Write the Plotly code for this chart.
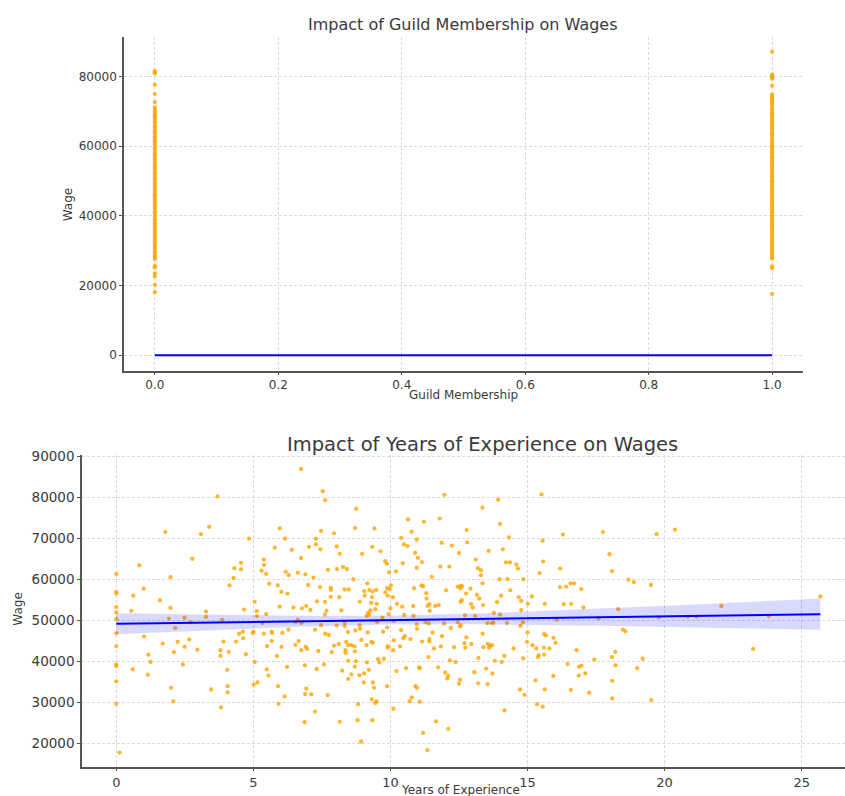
import numpy as np
import plotly.graph_objects as go

# ---------------- data ----------------
experience = [
    3.69, 1.79, 3.09, 3.39, 2.77, 0.84, 0.0, 1.98, 0.0, 0.0, 1.00, 0.62, 0.0, 1.59, 1.98, 0.55, 0.0, 0.0,
    1.92, 2.49, 3.27, 3.27, 3.86, 2.71, 2.15, 0.0, 0.0, 1.01, 1.69, 2.24, 2.66, 2.49, 2.10, 2.96, 3.91,
    3.80, 3.80, 0.0, 0.0, 1.17, 1.25, 2.43, 0.60, 1.15, 0.0, 2.00, 3.46, 0.0, 2.08, 3.82, 0.12,
    6.74, 7.53, 7.62, 5.96, 4.84, 6.15, 7.47, 7.94, 7.28, 5.78, 6.40, 7.28, 7.03, 7.45, 8.04, 8.15, 6.74,
    5.38, 5.39, 4.55, 4.55, 4.31, 5.30, 5.47, 6.18, 6.29, 6.62, 6.90, 7.72, 8.05, 8.27, 8.41, 4.28, 4.13,
    7.19, 5.58, 5.89, 7.00, 7.43, 7.82, 7.83, 8.33, 8.48, 6.02, 6.24, 5.05, 8.13, 7.82, 7.32, 7.61, 4.66,
    5.13, 5.13, 5.47, 5.96, 6.46, 6.77, 6.93, 7.08, 7.67, 7.61, 8.21, 6.62, 6.54, 6.74, 6.79, 5.32, 7.47,
    8.04, 8.33, 8.33, 5.00, 4.98, 4.62, 4.48, 4.63, 5.38, 5.67, 5.68, 6.06, 6.28, 7.25, 7.62, 7.75, 8.45,
    4.37, 5.67, 6.65, 6.53, 6.91, 6.96, 7.94, 8.12, 8.39, 8.46, 8.36, 8.37, 5.50, 6.03, 6.75, 7.37, 7.86,
    4.10, 4.73, 5.86, 8.46, 5.05, 6.23, 6.88, 7.58, 4.05, 5.49, 5.55, 7.31, 8.24, 8.57, 8.46, 5.15, 5.01,
    4.06, 4.06, 5.90, 6.93, 6.89, 7.11, 6.14, 7.71, 5.92, 7.25, 6.87, 8.15,
    11.97, 8.75, 10.64, 11.22, 11.80, 8.71, 9.42, 10.77, 12.78, 10.39, 10.96, 11.87, 12.24, 12.80, 10.49,
    10.62, 9.34, 9.64, 8.97, 10.90, 12.50, 11.00, 11.15, 9.81, 9.87, 10.45, 10.96, 11.82, 12.15, 13.11,
    9.95, 10.20, 8.65, 11.51, 9.16, 11.13, 11.19, 10.86, 9.88, 9.98, 10.02, 9.23, 9.35, 9.48, 9.04, 12.03,
    12.45, 12.56, 12.61, 12.55, 12.92, 11.31, 12.76, 9.81, 9.06, 9.33, 10.09, 9.90, 8.88, 9.50, 9.30,
    10.24, 10.43, 10.83, 11.32, 11.36, 11.42, 11.63, 11.76, 12.56, 12.60, 12.94, 13.00, 11.43, 10.00, 9.45,
    9.27, 9.19, 9.14, 9.22, 9.71, 9.93, 10.50, 10.84, 12.72, 13.09, 9.48, 9.53, 10.12, 10.96, 11.28, 11.40,
    11.96, 12.56, 12.45, 8.88, 8.89, 8.72, 10.97, 12.20, 12.54, 9.17, 9.73, 10.39, 9.88, 11.54, 10.53,
    10.47, 11.88, 12.77, 8.94, 10.12, 10.73, 11.42, 11.42, 11.15, 9.30, 9.36, 12.70, 12.73, 8.58, 8.69,
    8.70, 9.13, 9.90, 9.90, 10.10, 10.35, 11.59, 11.84, 12.32, 12.95, 9.55, 9.60, 9.76, 8.74, 9.14, 11.39,
    12.17, 12.38, 8.70, 9.21, 9.04, 8.87, 10.22, 10.57, 11.04, 11.07, 11.74, 12.00, 12.11, 12.07, 13.06,
    9.03, 9.36, 9.40, 9.88, 10.91, 10.97, 12.54, 12.50, 9.32, 9.49, 9.45, 8.82, 10.78, 10.70, 11.07, 10.11,
    8.80, 9.34, 11.66, 12.11, 11.19, 8.93, 11.35,
    15.51, 13.93, 13.36, 14.00, 16.29, 14.32, 15.55, 13.58, 14.10, 15.57, 14.21, 14.36, 14.59, 14.65, 13.19,
    13.30, 13.30, 16.19, 15.44, 13.36, 13.98, 14.27, 14.85, 16.18, 16.41, 16.57, 16.70, 16.96, 14.37, 13.15,
    13.24, 14.04, 14.68, 14.77, 15.16, 13.89, 13.38, 15.01, 15.63, 16.32, 16.59, 17.04, 14.77, 13.77, 14.00,
    14.83, 14.74, 13.54, 13.70, 13.75, 14.25, 16.07, 17.59, 15.00, 13.36, 15.61, 15.67, 15.95, 13.39, 13.55,
    13.64, 13.70, 13.60, 14.98, 15.18, 15.32, 15.60, 15.80, 16.02, 14.49, 15.41, 15.38, 15.61, 16.79, 14.15,
    14.84, 13.21, 17.44, 13.81, 14.06, 16.46, 16.88, 16.97, 13.49, 13.72, 17.11, 16.87, 15.94, 13.20, 13.54,
    15.29, 14.73, 14.89, 15.63, 16.58, 17.25, 15.35, 15.55, 14.16,
    17.75, 19.71, 20.38, 17.99, 18.08, 18.68, 18.88, 19.50, 18.31, 22.07, 19.79, 20.85, 21.17, 18.48, 18.57,
    18.20, 18.08, 19.20, 18.21, 19.00, 18.09, 18.09, 19.51,
    25.68, 23.23, 23.80,
]
wage = [
    80200, 71500, 71000, 72800, 65000, 63400, 61300, 60500, 56900, 56500, 57700, 56000, 53200, 54900, 53000, 52300, 51900, 50300,
    50400, 50600, 52100, 50800, 50100, 49500, 48100, 46800, 43700, 46000, 44300, 44700, 45300, 43500, 42200, 42800, 44800,
    42700, 41300, 39200, 38800, 41600, 39800, 39200, 38000, 36700, 35100, 33500, 33100, 29600, 30200, 28700, 17700,
    86900, 81500, 79300, 72400, 69900, 69900, 71800, 71200, 69900, 67700, 67200, 68500, 67900, 67300, 68000, 66200, 65200,
    64800, 63500, 64000, 62400, 62700, 62100, 61300, 61800, 61000, 61600, 61200, 62300, 62500, 63000, 62500, 60300, 58500,
    60400, 58900, 58500, 58600, 58100, 57900, 57400, 57500, 57500, 56900, 56500, 54500, 55600, 55700, 54600, 54500, 52600,
    52200, 51000, 51500, 53300, 53100, 52900, 53500, 52500, 52300, 51400, 52400, 50100, 49500, 49300, 49600, 49300, 48800,
    48700, 49500, 48600, 47200, 46900, 47200, 46700, 45600, 46700, 47200, 46900, 46900, 47700, 47700, 46700, 46400, 47100,
    44800, 44900, 44900, 44000, 43500, 43000, 43800, 44200, 44700, 43900, 42700, 42000, 43700, 43500, 42700, 42500, 42200,
    42300, 41700, 41300, 40100, 39800, 38600, 39000, 39200, 37900, 38000, 36500, 38100, 37700, 36800, 35700, 34800, 34300,
    33900, 32400, 33900, 33300, 32000, 31900, 31400, 31700, 29600, 27700, 25100, 25200,
    80600, 77200, 74600, 74000, 74800, 72500, 72400, 71600, 72000, 70100, 69700, 68900, 68200, 69000, 68500,
    68100, 67900, 66800, 66200, 66400, 66400, 65200, 64200, 64400, 63800, 63900, 62800, 63100, 63100, 64800,
    61700, 61900, 60000, 60600, 59000, 58500, 58300, 57800, 57800, 57600, 58500, 57400, 57000, 57400, 57100, 57300,
    58200, 58400, 58300, 57800, 57700, 56600, 56500, 56800, 56000, 55600, 55600, 56000, 54500, 54000, 54200,
    54000, 53300, 53500, 55300, 53500, 53900, 53500, 53700, 54500, 54900, 54000, 53100, 52300, 52900, 52700,
    52400, 51800, 51100, 51400, 50600, 51500, 51300, 51100, 51200, 51000, 49800, 49600, 49800, 49000, 49500, 49200,
    49200, 48800, 49500, 48800, 47900, 47500, 47900, 48100, 48500, 47000, 47200, 47600, 48200, 47000, 46100,
    45600, 46100, 45800, 45200, 45100, 45400, 45400, 44800, 44800, 44700, 44500, 44400, 43300, 43900, 43600,
    42400, 43900, 43700, 43300, 42700, 43600, 43100, 43600, 43400, 44200, 40500, 39700, 40600, 40000, 39700, 41000,
    40200, 39800, 38700, 37900, 37000, 36600, 37600, 38300, 38500, 38300, 38500, 37200, 36400, 35800, 37300,
    34800, 34800, 33500, 33900, 33900, 33500, 35500, 34500, 30700, 30200, 29800, 29500, 31100, 30200, 30100, 28400,
    25600, 25600, 25300, 23500, 22500, 20400, 18300,
    80700, 79400, 77500, 73500, 70900, 70200, 69400, 66900, 67300, 64300, 64100, 64100, 63600, 62600, 62700,
    62200, 61000, 62600, 61500, 59000, 60000, 60000, 60000, 58100, 58200, 59000, 59000, 57600, 57300, 56200,
    55300, 56000, 55600, 54700, 55800, 54400, 53700, 54000, 54000, 53900, 54000, 53100, 52500, 51800, 51400,
    49500, 48600, 49300, 49300, 49400, 49300, 50100, 50500, 47000, 46700, 46600, 46300, 45700, 43400, 44200,
    43800, 43900, 43300, 44700, 43900, 43100, 43300, 43100, 44500, 43100, 41400, 41000, 41600, 42700, 41300,
    40700, 40800, 40400, 40100, 39800, 39300, 38600, 38900, 38200, 37000, 37000, 36500, 36400, 34600, 34400,
    35300, 33100, 31800, 33100, 33000, 32300, 29500, 28900, 28000,
    71500, 71000, 72100, 66100, 62000, 59900, 59300, 58600, 52700, 53500, 50700, 50900, 50900, 47700, 47300,
    42300, 41000, 40600, 39000, 38300, 35200, 30900, 30500,
    55800, 43000, 51000,
]

guild0_wage = [81500, 81200, 80800, 77600, 75000, 72600, 71100, 70500, 69900, 69300, 68800, 68400, 67900, 67100,
               66600, 65800, 65400, 64700, 64100, 63600, 62800, 62300, 61700, 61200, 60500, 59800, 59300, 58600,
               58000, 57500, 56900, 56200, 55700, 55000, 54400, 53900, 53300, 52600, 52100, 51500, 50800, 50300,
               49600, 49000, 48400, 47700, 47200, 46500, 45900, 45400, 44700, 44100, 43500, 42900, 42300, 41700,
               41000, 40500, 39800, 39100, 38600, 37900, 37400, 36700, 36100, 35500, 34900, 34200, 33600, 33000,
               32400, 31700, 31100, 30500, 29800, 29300, 28700, 28200, 27600, 25600, 25200, 23500, 22600, 20200, 18100]
guild1_wage = [87100, 80500, 80200, 79700, 79300, 77300, 74800, 74400, 73900, 73400, 72900, 72300, 71800, 71000,
               70400, 69700, 69100, 68600, 67800, 67300, 66600, 66000, 65300, 64800, 64000, 63400, 62900, 62100,
               61500, 60900, 60200, 59600, 59000, 58300, 57800, 57100, 56500, 55800, 55300, 54600, 54000, 53400,
               52700, 52100, 51400, 50900, 50200, 49600, 48900, 48300, 47700, 47000, 46400, 45800, 45100, 44500,
               43900, 43200, 42700, 42000, 41400, 40800, 40100, 39500, 38900, 38200, 37600, 37000, 36300, 35700,
               35100, 34400, 33800, 33200, 32500, 31900, 31300, 30600, 30000, 29400, 28800, 28100, 27700, 25500,
               25000, 17600]

guild_fit_x = [0, 1]
guild_fit_y = [0, 0]

top_xticks = [0.0, 0.2, 0.4, 0.6, 0.8, 1.0]
top_yticks = [0, 20000, 40000, 60000, 80000]
bot_xticks = [0, 5, 10, 15, 20, 25]
bot_yticks = [20000, 30000, 40000, 50000, 60000, 70000, 80000, 90000]

# ---------------- regression (like seaborn regplot) ----------------
xa = np.array(experience, dtype=float)
ya = np.array(wage, dtype=float)
slope, intercept = np.polyfit(xa, ya, 1)
xs = np.linspace(xa.min(), xa.max(), 100)
yhat = intercept + slope * xs
resid = ya - (intercept + slope * xa)
n = len(xa)
s = np.sqrt(np.sum(resid ** 2) / (n - 2))
sxx = np.sum((xa - xa.mean()) ** 2)
se = s * np.sqrt(1.0 / n + (xs - xa.mean()) ** 2 / sxx)
lo = yhat - 1.97 * se
hi = yhat + 1.97 * se

FONT = "DejaVu Sans"
TXT = "#3a3a3a"
ORANGE = "rgba(255,165,0,0.8)"

fig = go.Figure()
mk = dict(color=ORANGE, size=4.3, line=dict(width=0))
fig.add_trace(go.Scatter(x=[0] * len(guild0_wage), y=guild0_wage, mode="markers", marker=mk,
                         xaxis="x", yaxis="y", showlegend=False))
fig.add_trace(go.Scatter(x=[1] * len(guild1_wage), y=guild1_wage, mode="markers", marker=mk,
                         xaxis="x", yaxis="y", showlegend=False))
fig.add_trace(go.Scatter(x=guild_fit_x, y=guild_fit_y, mode="lines", line=dict(color="blue", width=2),
                         xaxis="x", yaxis="y", showlegend=False))

fig.add_trace(go.Scatter(x=experience, y=wage, mode="markers", marker=mk,
                         xaxis="x2", yaxis="y2", showlegend=False))
fig.add_trace(go.Scatter(x=xs, y=lo, mode="lines", line=dict(width=0), xaxis="x2", yaxis="y2",
                         showlegend=False, hoverinfo="skip"))
fig.add_trace(go.Scatter(x=xs, y=hi, mode="lines", line=dict(width=0), fill="tonexty",
                         fillcolor="rgba(0,0,255,0.15)", xaxis="x2", yaxis="y2",
                         showlegend=False, hoverinfo="skip"))
fig.add_trace(go.Scatter(x=xs, y=yhat, mode="lines", line=dict(color="blue", width=2),
                         xaxis="x2", yaxis="y2", showlegend=False))

W, H = 845, 796


def px_x(p):
    return p / W


def px_y(p):
    return 1 - p / H


axis_common = dict(showgrid=True, gridcolor="#dadada", griddash="3px,2px", gridwidth=1,
                   showline=True, linecolor="#555555", linewidth=1.5, mirror=False,
                   ticks="outside", tickwidth=1, tickcolor="#555555", zeroline=False)

fig.update_layout(
    width=W, height=H,
    margin=dict(l=0, r=0, t=0, b=0),
    paper_bgcolor="white", plot_bgcolor="white",
    font=dict(family=FONT, color=TXT),
    xaxis=dict(domain=[px_x(124), px_x(803)], anchor="y", range=[-0.05, 1.05], ticklen=2,
               tickvals=top_xticks, ticktext=[f"{v:.1f}" for v in top_xticks],
               tickfont=dict(size=12, color=TXT), **axis_common),
    yaxis=dict(domain=[px_y(367), px_y(30)], anchor="x", range=[-4465, 91380], ticklen=3,
               tickvals=top_yticks, ticktext=[str(v) for v in top_yticks],
               tickfont=dict(size=12, color=TXT), **axis_common),
    xaxis2=dict(domain=[px_x(82), 1.0], anchor="y2", range=[-1.25, 26.58], ticklen=2,
                tickvals=bot_xticks, ticktext=[str(v) for v in bot_xticks],
                tickfont=dict(size=13, color=TXT), **axis_common),
    yaxis2=dict(domain=[px_y(767), px_y(452)], anchor="x2", range=[14120, 90310], ticklen=3,
                tickvals=bot_yticks, ticktext=[str(v) for v in bot_yticks],
                tickfont=dict(size=13.5, color=TXT), **axis_common),
    annotations=[
        dict(text="Impact of Guild Membership on Wages", x=px_x(463), y=px_y(18), xref="paper", yref="paper",
             showarrow=False, font=dict(size=16, color=TXT, family=FONT), xanchor="center", yanchor="middle"),
        dict(text="Guild Membership", x=px_x(463), y=px_y(391), xref="paper", yref="paper",
             showarrow=False, font=dict(size=12, color=TXT, family=FONT), xanchor="center", yanchor="middle"),
        dict(text="Wage", x=px_x(68), y=px_y(200), xref="paper", yref="paper", textangle=-90,
             showarrow=False, font=dict(size=12, color=TXT, family=FONT), xanchor="center", yanchor="middle"),
        dict(text="Impact of Years of Experience on Wages", x=px_x(482), y=px_y(441), xref="paper", yref="paper",
             showarrow=False, font=dict(size=19.5, color=TXT, family=FONT), xanchor="center", yanchor="middle"),
        dict(text="Years of Experience", x=px_x(461), y=px_y(790), xref="paper", yref="paper",
             showarrow=False, font=dict(size=12, color=TXT, family=FONT), xanchor="center", yanchor="middle"),
        dict(text="Wage", x=px_x(18), y=px_y(608), xref="paper", yref="paper", textangle=-90,
             showarrow=False, font=dict(size=12, color=TXT, family=FONT), xanchor="center", yanchor="middle"),
    ],
)

fig.write_html("out.html", config={"displayModeBar": False})

# remove the browser's default page margin so the figure sits at (0, 0)
with open("out.html", "r", encoding="utf-8") as f:
    html = f.read()
html = html.replace("<head>", "<head><style>html,body{margin:0;padding:0;overflow:hidden;}</style>", 1)
with open("out.html", "w", encoding="utf-8") as f:
    f.write(html)
